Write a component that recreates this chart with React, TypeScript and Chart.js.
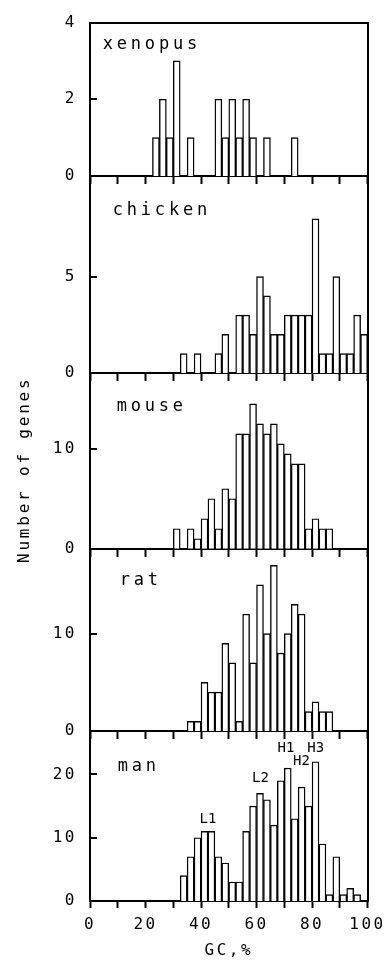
import React, { useEffect, useRef } from 'react';
import { Chart, registerables } from 'chart.js';

Chart.register(...registerables);

// GC bins (start of each 2.5 % bin)
const binStarts = [
  0, 2.5, 5, 7.5, 10, 12.5, 15, 17.5, 20, 22.5,
  25, 27.5, 30, 32.5, 35, 37.5, 40, 42.5, 45, 47.5,
  50, 52.5, 55, 57.5, 60, 62.5, 65, 67.5, 70, 72.5,
  75, 77.5, 80, 82.5, 85, 87.5, 90, 92.5, 95, 97.5,
];
const binWidth = 2.5;

const xenopus = [0,0,0,0,0,0,0,0,0,1, 2,1,3,0,1,0,0,0,2,1, 2,1,2,1,0,1,0,0,0,1, 0,0,0,0,0,0,0,0,0,0];
const chicken = [0,0,0,0,0,0,0,0,0,0, 0,0,0,1,0,1,0,0,1,2, 0,3,3,2,5,4,2,2,3,3, 3,3,8,1,1,5,1,1,3,2];
const mouse = [0,0,0,0,0,0,0,0,0,0, 0,0,2,0,2,1,3,5,2,6, 5,11.5,11.5,14.5,12.5,11.5,12.5,10.5,9.5,8.5, 8.5,2,3,2,2,0,0,0,0,0];
const rat = [0,0,0,0,0,0,0,0,0,0, 0,0,0,0,1,1,5,4,4,9, 7,1,12,7,15,10,17,8,10,13, 12,2,3,2,2,0,0,0,0,0];
const man = [0,0,0,0,0,0,0,0,0,0, 0,0,0,4,7,10,11,11,7,6, 3,3,11,15,17,16,12,19,21,13, 18,15,22,9,1,7,1,2,1,0];

// y tick labels per panel
const xenopusTicks = [0, 2, 4];
const chickenTicks = [0, 5];
const mouseTicks = [0, 10];
const ratTicks = [0, 10];
const manTicks = [0, 10, 20];

// x tick labels
const xLabeledTicks = [0, 20, 40, 60, 80, 100];

const panelNames = ['xenopus', 'chicken', 'mouse', 'rat', 'man'];
const panelMax = [4, 10.23, 17.6, 18.7, 26.85];

// peak annotations in the man panel: [text, GC %, value]
const manPeakLabels: [string, number, number][] = [
  ['L1', 42.5, 12.4],
  ['L2', 61.4, 18.75],
  ['H1', 70.6, 23.6],
  ['H2', 76.2, 21.5],
  ['H3', 81.3, 23.6],
];

// ---------- layout / style (not data) ----------
const FONT = '"DejaVu Sans Mono", monospace';
const panelIds = ['yXen', 'yChk', 'yMou', 'yRat', 'yMan'];
const panelTicks = [xenopusTicks, chickenTicks, mouseTicks, ratTicks, manTicks];
const panelValues = [xenopus, chicken, mouse, rat, man];
const panelHeights = [155, 199, 177.7, 184.3, 171.7];
const panelLabelAt: [number, number][] = [
  [4.6, 3.31],
  [8.2, 8.2],
  [9.6, 13.8],
  [10.7, 15.0],
  [10.0, 20.5],
];

const datasets = panelValues.map((vals, p) => ({
  label: panelNames[p],
  data: binStarts.map((b, i) => ({ x: b + binWidth / 2, y: vals[i] })),
  yAxisID: panelIds[p],
  xAxisID: 'x',
  backgroundColor: '#ffffff',
  borderColor: '#000000',
  borderWidth: 1.4,
  grouped: false,
  barPercentage: 1,
  categoryPercentage: 1,
}));

function yAxis(p: number) {
  const ticks = panelTicks[p];
  return {
    type: 'linear',
    position: 'left',
    stack: 'panels',
    stackWeight: panelHeights[p],
    weight: 10 - p,
    min: 0,
    max: panelMax[p],
    offset: false,
    afterBuildTicks: (s: any) => {
      s.ticks = ticks.map((v) => ({ value: v }));
    },
    afterFit: (s: any) => {
      s.width = 90;
    },
    grid: { display: false, drawTicks: false, offset: false },
    border: { display: true, color: '#000', width: 2 },
    ticks: {
      padding: 13,
      color: '#000',
      autoSkip: false,
      font: { family: FONT, size: 16 },
      callback: (v: any) => String(v),
    },
  };
}

function panelXAxis(p: number) {
  return {
    type: 'linear',
    position: { [panelIds[p]]: 0 },
    min: 0,
    max: 100,
    offset: false,
    z: 1,
    ticks: { display: false, stepSize: 10 },
    grid: { display: true, offset: false, drawOnChartArea: false, tickLength: 7, tickWidth: 2, color: '#000' },
    border: { display: true, color: '#000', width: 2 },
  };
}

const scales: any = {
  x: {
    type: 'linear',
    position: 'bottom',
    min: 0,
    max: 100,
    offset: false,
    z: 1,
    afterFit: (s: any) => {
      s.height = 63;
    },
    ticks: {
      stepSize: 10,
      autoSkip: false,
      maxRotation: 0,
      minRotation: 0,
      padding: 7,
      color: '#000',
      font: { family: FONT, size: 16 },
      callback: (v: any) => (xLabeledTicks.includes(v) ? String(v) : ''),
    },
    grid: { display: true, offset: false, drawOnChartArea: false, tickLength: 7, tickWidth: 2, color: '#000' },
    border: { display: true, color: '#000', width: 2 },
    title: {
      display: true,
      text: 'GC,%',
      color: '#000',
      font: { family: FONT, size: 16 },
      padding: { top: 4, bottom: 4 },
    },
  },
  xXen: panelXAxis(0),
  xChk: panelXAxis(1),
  xMou: panelXAxis(2),
  xRat: panelXAxis(3),
  xTop: {
    type: 'linear',
    position: { yXen: panelMax[0] },
    min: 0,
    max: 100,
    offset: false,
    z: 1,
    ticks: { display: false },
    grid: { display: false, drawTicks: false, offset: false },
    border: { display: true, color: '#000', width: 2 },
  },
  yMan: yAxis(4),
  yRat: yAxis(3),
  yMou: yAxis(2),
  yChk: yAxis(1),
  yXen: yAxis(0),
  yR: {
    type: 'linear',
    position: 'right',
    min: 0,
    max: 1,
    offset: false,
    afterFit: (s: any) => {
      s.width = 0;
    },
    ticks: { display: false },
    grid: { display: false, drawTicks: false },
    border: { display: true, color: '#000', width: 2 },
  },
};

const panelPlugin = {
  id: 'panelDecor',
  beforeDraw(chart: any) {
    chart.ctx.letterSpacing = '2.5px';
  },
  afterDraw(chart: any) {
    const ctx = chart.ctx;
    const area = chart.chartArea;
    const xs = chart.scales.x;
    ctx.save();
    ctx.strokeStyle = '#000';
    ctx.fillStyle = '#000';
    ctx.lineWidth = 2;
    panelIds.forEach((id, p) => {
      const sc = chart.scales[id];
      panelTicks[p].forEach((v) => {
        const y = Math.round(sc.getPixelForValue(v));
        ctx.beginPath();
        ctx.moveTo(area.left, y);
        ctx.lineTo(area.left + 7, y);
        ctx.stroke();
      });
      ctx.font = '17px ' + FONT;
      ctx.letterSpacing = '3.8px';
      ctx.textAlign = 'left';
      ctx.textBaseline = 'alphabetic';
      const [lx, ly] = panelLabelAt[p];
      ctx.fillText(panelNames[p], xs.getPixelForValue(lx), sc.getPixelForValue(ly));
    });

    const manScale = chart.scales.yMan;
    ctx.font = '14px ' + FONT;
    ctx.letterSpacing = '0px';
    ctx.textAlign = 'center';
    manPeakLabels.forEach(([t, gx, gy]) => {
      ctx.fillText(t, xs.getPixelForValue(gx), manScale.getPixelForValue(gy));
    });

    // y-axis title
    ctx.font = '16px ' + FONT;
    ctx.letterSpacing = '2.8px';
    ctx.translate(25, (area.top + area.bottom) / 2 + 8);
    ctx.rotate(-Math.PI / 2);
    ctx.textAlign = 'center';
    ctx.textBaseline = 'middle';
    ctx.fillText('Number of genes', 0, 0);
    ctx.restore();
  },
};

export default function App() {
  const ref = useRef<HTMLCanvasElement>(null);
  useEffect(() => {
    if (!ref.current) return;
    const chart = new Chart(ref.current, {
      type: 'bar',
      data: { datasets: datasets as any },
      options: {
        responsive: false,
        devicePixelRatio: 1,
        animation: false,
        layout: { padding: { top: 13, right: 18, left: 0, bottom: 0 } },
        plugins: { legend: { display: false }, tooltip: { enabled: false } },
        scales,
      } as any,
      plugins: [panelPlugin],
    });
    return () => chart.destroy();
  }, []);
  return (
    <div style={{ position: 'absolute', left: 0, top: 0, width: 389, height: 964, background: '#fff' }}>
      <canvas ref={ref} width={389} height={964} style={{ display: 'block', width: 389, height: 964 }} />
    </div>
  );
}
